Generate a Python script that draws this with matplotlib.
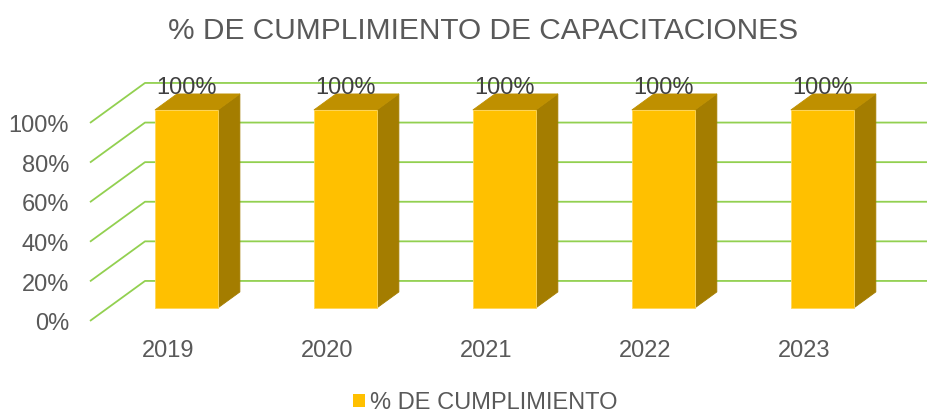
import matplotlib
matplotlib.use("Agg")
import matplotlib.pyplot as plt
from matplotlib.patches import Polygon

plt.rcParams['font.family'] = ['Liberation Sans', 'DejaVu Sans']

# ---- data ----
title = "% DE CUMPLIMIENTO DE CAPACITACIONES"
categories = ["2019", "2020", "2021", "2022", "2023"]
values = [100, 100, 100, 100, 100]
series_name = "% DE CUMPLIMIENTO"
yticks = [0, 20, 40, 60, 80, 100]
ytick_labels = ["0%", "20%", "40%", "60%", "80%", "100%"]
data_labels = ["100%", "100%", "100%", "100%", "100%"]

# ---- 3D oblique projection parameters (in data units) ----
DX = 0.346     # depth offset in category units (full wall depth)
DV = 20.2      # depth offset in value units
F1, F2 = 0.325, 0.725   # bar front / back depth fraction
W = 0.396      # bar width (category units)
FLOOR_LEFT = -0.494

FRONT = '#FFC000'
TOP = '#BF9000'
SIDE = '#A47D00'
GRID = '#92D050'
TXT = '#595959'
FS = 17

fig = plt.figure(figsize=(9.28, 4.13), dpi=100)
ax = fig.add_axes([0, 0, 1, 1])
ax.set_xlim(-1.06, 4.777)
ax.set_ylim(-46.5, 162.1)
ax.axis('off')

# gridlines: diagonal on left wall + horizontal on back wall
for t, lab in zip(yticks, ytick_labels):
    ax.plot([FLOOR_LEFT, FLOOR_LEFT + DX, 6], [t, t + DV, t + DV],
            color=GRID, lw=1.3, solid_capstyle='butt', zorder=1)
    ax.text(FLOOR_LEFT - 0.132, t - 1.6, lab,
            ha='right', va='center', fontsize=FS, color=TXT)

# bars
for i, v in enumerate(values):
    x0 = i - W / 2 + F1 * DX
    x1 = i + W / 2 + F1 * DX
    b0 = F1 * DV
    b1 = v + F1 * DV
    ddx = (F2 - F1) * DX
    ddv = (F2 - F1) * DV
    front = Polygon([(x0, b0), (x1, b0), (x1, b1), (x0, b1)], closed=True,
                    facecolor=FRONT, edgecolor='#FFD75A', lw=0.6, zorder=3)
    top = Polygon([(x0, b1), (x1, b1), (x1 + ddx, b1 + ddv), (x0 + ddx, b1 + ddv)],
                  closed=True, facecolor=TOP, edgecolor=TOP, lw=0.6, zorder=3)
    side = Polygon([(x1, b0), (x1 + ddx, b0 + ddv), (x1 + ddx, b1 + ddv), (x1, b1)],
                   closed=True, facecolor=SIDE, edgecolor=SIDE, lw=0.6, zorder=3)
    for p in (side, top, front):
        ax.add_patch(p)
    ax.text((x0 + x1) / 2, v + F2 * DV + 2.8, data_labels[i], ha='center', va='center',
            fontsize=FS, color='#404040', zorder=4)
    ax.text(i, -15.4, categories[i], ha='center', va='center', fontsize=FS, color=TXT)

fig.text(0.521, 1 - 31 / 413, title, ha='center', va='center', fontsize=21.5, color=TXT)

# legend
ax.bar([0], [0], color=FRONT, label=series_name)
leg = fig.legend(loc='center', bbox_to_anchor=(0.523, 1 - 403 / 413), frameon=False,
                 fontsize=FS, handlelength=0.5, handleheight=0.5, handletextpad=0.25,
                 borderpad=0, borderaxespad=0)
for t in leg.get_texts():
    t.set_color(TXT)

fig.savefig("out.png", dpi=100)
